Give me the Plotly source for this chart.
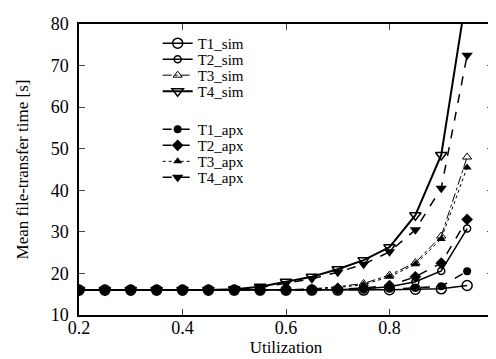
import plotly.graph_objects as go

utilization = [0.2, 0.25, 0.3, 0.35, 0.4, 0.45, 0.5, 0.55, 0.6, 0.65, 0.7, 0.75, 0.8, 0.85, 0.9, 0.95]

t1_sim = [16, 16, 16, 16, 16, 16, 16, 16, 16, 16, 16, 16, 16.1, 16.2, 16.3, 17.1]
t2_sim = [16, 16, 16, 16, 16, 16, 16, 16, 16, 16, 16.1, 16.3, 16.8, 18.0, 20.6, 30.8]
t3_sim = [16, 16, 16, 16, 16, 16, 16, 16, 16.1, 16.3, 16.8, 17.6, 19.6, 22.6, 29.0, 48.0]
t4_sim = [16, 16, 16, 16, 16, 16, 16.2, 16.8, 18.0, 19.2, 21.0, 23.2, 26.3, 34.0, 48.5, 88.0]

t1_apx = [16, 16, 16, 16, 16, 16, 16, 16, 16, 16, 16, 16.1, 16.3, 16.5, 16.9, 20.5]
t2_apx = [16, 16, 16, 16, 16, 16, 16, 16, 16, 16.1, 16.2, 16.5, 17.1, 19.2, 22.5, 33.0]
t3_apx = [16, 16, 16, 16, 16, 16, 16, 16, 16.1, 16.2, 16.6, 17.3, 19.2, 22.2, 28.3, 45.5]
t4_apx = [16, 16, 16, 16, 16, 16, 16.1, 16.6, 17.6, 18.7, 20.3, 22.2, 25.2, 30.5, 40.5, 72.5]

x_ticks = [0.2, 0.4, 0.6, 0.8, 1.0]
x_ticktext = ["0.2", "0.4", "0.6", "0.8", "1"]
y_ticks = [10, 20, 30, 40, 50, 60, 70, 80]

series = [
    ("T1_sim", t1_sim, dict(color="black", width=1.5), dict(symbol="circle-open", size=10, line=dict(width=1.5))),
    ("T2_sim", t2_sim, dict(color="black", width=1.5), dict(symbol="circle-open", size=7, line=dict(width=1.5))),
    ("T3_sim", t3_sim, dict(color="black", width=1, dash="dashdot"), dict(symbol="triangle-up-open", size=8, line=dict(width=1))),
    ("T4_sim", t4_sim, dict(color="black", width=2), dict(symbol="triangle-down-open", size=10, line=dict(width=1.5))),
    ("T1_apx", t1_apx, dict(color="black", width=1.5, dash="dash"), dict(symbol="circle", size=8)),
    ("T2_apx", t2_apx, dict(color="black", width=1.5, dash="dash"), dict(symbol="diamond", size=9)),
    ("T3_apx", t3_apx, dict(color="black", width=1, dash="dot"), dict(symbol="triangle-up", size=8)),
    ("T4_apx", t4_apx, dict(color="black", width=1.5, dash="dash"), dict(symbol="triangle-down", size=10)),
]

# legend entry positions (paper fraction of the plot area, top of each one-entry legend)
legend_tops = [0.99, 0.935, 0.88, 0.825, 0.694, 0.639, 0.584, 0.529]

font_family = "Liberation Serif"
fig = go.Figure()
layout_legends = {}
for i, (name, vals, line, marker) in enumerate(series):
    marker = dict(marker)
    marker["color"] = "black"
    if "line" in marker:
        marker["line"] = dict(marker["line"], color="black")
    leg = "legend" if i == 0 else f"legend{i + 1}"
    fig.add_trace(go.Scatter(
        x=utilization, y=vals, name=name, mode="lines+markers",
        legend=leg, line=line, marker=marker, cliponaxis=True, showlegend=True,
    ))
    layout_legends[leg] = dict(
        x=0.19, y=legend_tops[i], xanchor="left", yanchor="top",
        font=dict(family=font_family, size=15, color="black"),
        bgcolor="rgba(0,0,0,0)", itemwidth=30, visible=True,
    )

fig.update_layout(
    width=496, height=359,
    margin=dict(l=71, r=6, t=12, b=52),
    showlegend=True,
    paper_bgcolor="white", plot_bgcolor="white",
    font=dict(family=font_family, size=16, color="black"),
    xaxis=dict(
        range=[0.2, 1.0], tickvals=x_ticks, ticktext=x_ticktext,
        ticks="inside", ticklen=6, mirror="ticks", showline=True,
        linecolor="black", linewidth=1.5, showgrid=False, zeroline=False,
        title=dict(text="Utilization", standoff=0, font=dict(size=17)),
        tickfont=dict(size=18), ticklabelstandoff=-4,
    ),
    yaxis=dict(
        range=[10, 80], tickvals=y_ticks,
        ticks="inside", ticklen=6, mirror="ticks", showline=True,
        linecolor="black", linewidth=1.5, showgrid=False, zeroline=False,
        title=dict(text="Mean file-transfer time [s]", standoff=18, font=dict(size=17)),
        tickfont=dict(size=18), ticklabelstandoff=5,
    ),
)
fig.update_layout(**layout_legends)

fig.write_html("out.html")
